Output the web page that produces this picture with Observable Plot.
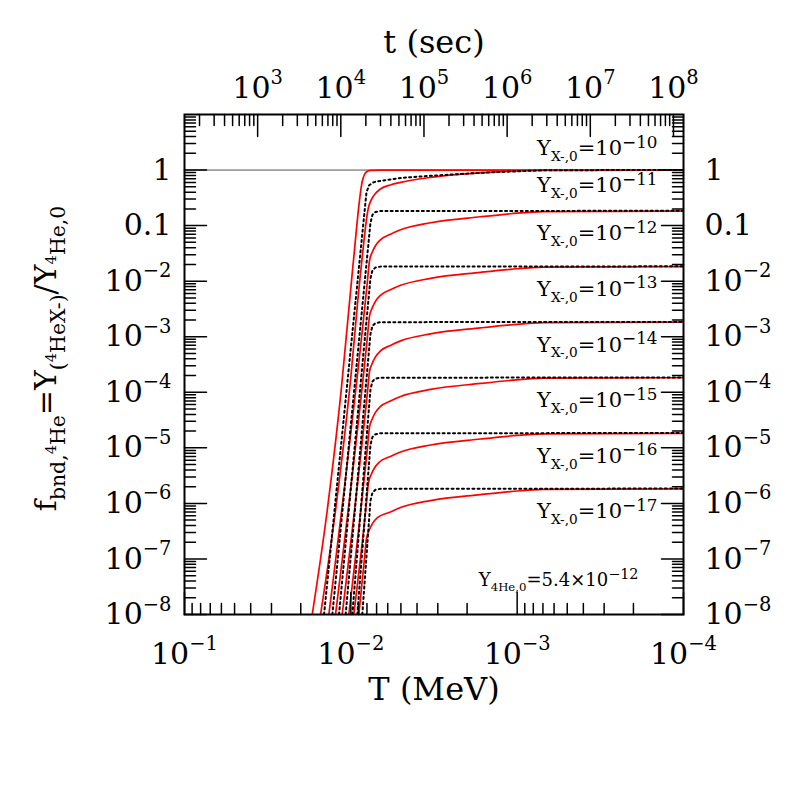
<!DOCTYPE html>
<html><head><meta charset="utf-8">
<script src="https://cdn.jsdelivr.net/npm/d3@7"></script>
<script src="https://cdn.jsdelivr.net/npm/@observablehq/plot@0.6"></script>
<style>html,body{margin:0;padding:0;background:#fff;}</style>
</head><body><div id="chart"></div>
<script>
// ---- data ----
// Y_{X-,0} = 10^-n for these n
const yxExponents = [10, 11, 12, 13, 14, 15, 16, 17];
// f value at the baseline of each label
const yxLabelF = [1.83, 0.40, 0.054, 5.4e-3, 5.4e-4, 5.4e-5, 5.4e-6, 5.4e-7];

// red solid curves: [log10 T(MeV), log10 f]
const red10 = [[-1.768,-8],[-1.858,-6.128],[-1.942,-3.967],[-2.010,-1.807],[-2.070,-0.187],[-2.082,-0.080],[-2.100,-0.020],[-2.118,-0.004],[-2.178,0],[-4,0]];
const red11 = [[-1.818,-8],[-1.908,-6.128],[-1.992,-3.967],[-2.060,-1.807],[-2.106,-0.673],[-2.124,-0.529],[-2.148,-0.421],[-2.178,-0.340],[-2.238,-0.268],[-2.299,-0.223],[-2.479,-0.133],[-2.780,-0.052],[-3.158,-0.004],[-4,0]];
const red12 = [[-1.868,-8],[-2.100,-1.993],[-2.112,-1.633],[-2.130,-1.471],[-2.148,-1.363],[-2.178,-1.255],[-2.238,-1.156],[-2.299,-1.075],[-2.479,-0.949],[-2.780,-0.841],[-2.960,-0.787],[-3.158,-0.747],[-4,-0.738]];
const red13 = [[-1.908,-8],[-2.100,-2.993],[-2.112,-2.633],[-2.130,-2.471],[-2.148,-2.363],[-2.178,-2.255],[-2.238,-2.156],[-2.299,-2.075],[-2.479,-1.949],[-2.780,-1.841],[-2.960,-1.787],[-3.158,-1.747],[-4,-1.738]];
const red14 = [[-1.948,-8],[-2.100,-3.993],[-2.112,-3.633],[-2.130,-3.471],[-2.148,-3.363],[-2.178,-3.255],[-2.238,-3.156],[-2.299,-3.075],[-2.479,-2.949],[-2.780,-2.841],[-2.960,-2.787],[-3.158,-2.747],[-4,-2.738]];
const red15 = [[-1.988,-8],[-2.100,-4.993],[-2.112,-4.633],[-2.130,-4.471],[-2.148,-4.363],[-2.178,-4.255],[-2.238,-4.156],[-2.299,-4.075],[-2.479,-3.949],[-2.780,-3.841],[-2.960,-3.787],[-3.158,-3.747],[-4,-3.738]];
const red16 = [[-2.018,-8],[-2.094,-5.993],[-2.106,-5.633],[-2.124,-5.471],[-2.142,-5.363],[-2.172,-5.255],[-2.238,-5.156],[-2.299,-5.075],[-2.479,-4.949],[-2.780,-4.841],[-2.960,-4.787],[-3.158,-4.747],[-4,-4.738]];
const red17 = [[-2.048,-8],[-2.082,-6.993],[-2.094,-6.633],[-2.112,-6.471],[-2.130,-6.363],[-2.160,-6.255],[-2.238,-6.156],[-2.299,-6.075],[-2.479,-5.949],[-2.780,-5.841],[-2.960,-5.787],[-3.158,-5.747],[-4,-5.738]];

// black dotted curves: [log10 T(MeV), log10 f]
const dot11 = [[-1.839,-8],[-2.094,-0.403],[-2.109,-0.277],[-2.130,-0.229],[-2.154,-0.205],[-2.299,-0.142],[-2.479,-0.103],[-2.780,-0.049],[-3.170,-0.002],[-4,0]];
const dot12 = [[-1.889,-8],[-2.118,-0.949],[-2.130,-0.805],[-2.148,-0.755],[-2.178,-0.738],[-4,-0.733]];
const dot13 = [[-1.929,-8],[-2.118,-1.949],[-2.130,-1.805],[-2.148,-1.755],[-2.178,-1.738],[-4,-1.733]];
const dot14 = [[-1.969,-8],[-2.118,-2.949],[-2.130,-2.805],[-2.148,-2.755],[-2.178,-2.738],[-4,-2.733]];
const dot15 = [[-2.009,-8],[-2.118,-3.949],[-2.130,-3.805],[-2.148,-3.755],[-2.178,-3.738],[-4,-3.733]];
const dot16 = [[-2.039,-8],[-2.118,-4.949],[-2.130,-4.805],[-2.148,-4.755],[-2.178,-4.738],[-4,-4.733]];
const dot17 = [[-2.069,-8],[-2.118,-5.949],[-2.130,-5.805],[-2.148,-5.755],[-2.178,-5.738],[-4,-5.733]];

// tick values and labels
const TMajor = [0.1, 0.01, 0.001, 0.0001];
const TLabels = ["10^{−1}", "10^{−2}", "10^{−3}", "10^{−4}"];
const fMajor = [1, 0.1, 1e-2, 1e-3, 1e-4, 1e-5, 1e-6, 1e-7, 1e-8];
const fLabels = ["1", "0.1", "10^{−2}", "10^{−3}", "10^{−4}", "10^{−5}", "10^{−6}", "10^{−7}", "10^{−8}"];
const tMajor = [1e3, 1e4, 1e5, 1e6, 1e7, 1e8];
const tLabels = ["10^{3}", "10^{4}", "10^{5}", "10^{6}", "10^{7}", "10^{8}"];
const tConst = 1.32; // t(sec) = tConst / T(MeV)^2

// ---- build tables ----
const redCurves = [red10, red11, red12, red13, red14, red15, red16, red17];
const dotCurves = [dot11, dot12, dot13, dot14, dot15, dot16, dot17];
const redTable = redCurves.flatMap((c, k) => c.map(([lt, lf]) => ({T: 10 ** lt, f: 10 ** lf, s: "r" + k})));
const dotTable = dotCurves.flatMap((c, k) => c.map(([lt, lf]) => ({T: 10 ** lt, f: 10 ** lf, s: "d" + k})));

const minors = (lo, hi) => { const o = []; for (let e = lo; e < hi; e++) for (let k = 2; k <= 9; k++) o.push(k * 10 ** e); return o; };
const TMinor = minors(-4, -1);
const fMinor = minors(-8, 1);
const tToT = t => Math.sqrt(tConst / t);
const tMinor = minors(2, 8).map(tToT).filter(T => T <= 0.1 && T >= 1e-4);
const tMajorT = tMajor.map(tToT);

const MAJ = 22, MIN = 11;
const tickOpts = {stroke: "black", strokeWidth: 1.5, r: 0, anchor: "start"};
const vx = (data, side, len) => Plot.vector(data, {...tickOpts, x: d => d, frameAnchor: side, length: len, rotate: side === "bottom" ? 0 : 180});
const vy = (data, side, len) => Plot.vector(data, {...tickOpts, y: d => d, frameAnchor: side, length: len, rotate: side === "left" ? 90 : -90});

const FONT = "DejaVu Serif";
const chart = Plot.plot({
  width: 797, height: 797,
  marginLeft: 184, marginRight: 114, marginTop: 114, marginBottom: 183,
  style: {fontFamily: FONT, background: "white", color: "black"},
  x: {type: "log", domain: [1e-4, 0.1], reverse: true, axis: null},
  y: {type: "log", domain: [1e-8, 10], axis: null},
  marks: [
    Plot.ruleY([1], {stroke: "#555", strokeWidth: 1}),
    Plot.line(redTable, {x: "T", y: "f", z: "s", stroke: "#ff0000", strokeWidth: 1.7, curve: "monotone-x", clip: true}),
    Plot.line(dotTable, {x: "T", y: "f", z: "s", stroke: "black", strokeWidth: 2, strokeDasharray: "2,3.2", clip: true}),
    Plot.frame({stroke: "black", strokeWidth: 2}),
    vx(TMajor, "bottom", MAJ), vx(TMinor, "bottom", MIN),
    vx(tMajorT, "top", MAJ), vx(tMinor, "top", MIN),
    vy(fMajor, "left", MAJ), vy(fMinor, "left", MIN),
    vy(fMajor, "right", MAJ), vy(fMinor, "right", MIN),
    Plot.text(TMajor, {x: d => d, text: (d, i) => TLabels[i], frameAnchor: "bottom", dy: 49, lineAnchor: "bottom", fontSize: 30}),
    Plot.text(tMajorT, {x: d => d, text: (d, i) => tLabels[i], frameAnchor: "top", dy: -17, lineAnchor: "bottom", fontSize: 30}),
    Plot.text(fMajor, {y: d => d, text: (d, i) => fLabels[i], frameAnchor: "left", dx: -13, textAnchor: "end", lineAnchor: "middle", fontSize: 30}),
    Plot.text(fMajor, {y: d => d, text: (d, i) => fLabels[i], frameAnchor: "right", dx: 21, textAnchor: "start", lineAnchor: "middle", fontSize: 30}),
    Plot.text(yxExponents, {y: (d, i) => yxLabelF[i], text: d => `Y_{X-,0}=10^{−${d}}`, frameAnchor: "right", dx: -26, textAnchor: "end", lineAnchor: "bottom", fontSize: 21}),
    Plot.text(["Y_{4He,0}=5.4×10^{−12}"], {frameAnchor: "bottom-right", dx: -45, dy: -29, textAnchor: "end", lineAnchor: "bottom", fontSize: 18}),
    Plot.text(["T (MeV)"], {frameAnchor: "bottom", dy: 85, lineAnchor: "bottom", fontSize: 32}),
    Plot.text(["t (sec)"], {frameAnchor: "top", dy: -62, lineAnchor: "bottom", fontSize: 32}),
    Plot.text(["f_{bnd,^{4}He}=Y_{(^{4}HeX-)}/Y_{^{4}He,0}"], {frameAnchor: "left", dx: -129, dy: -6, rotate: -90, textAnchor: "middle", lineAnchor: "bottom", fontSize: 30})
  ]
});
document.getElementById("chart").appendChild(chart);

// ---- rich text: _{sub} and ^{sup} into tspans ----
const STYLES = {
  tick: {sub: [0.65, 0.3], sup: [0.65, 0.45]},
  yx: {sub: [0.65, 0.28], sup: [0.8, 0.36]},
  ylab: {sub: [0.68, 0.3], sup: [0.72, 0.42]}
};
function parseRich(str, st) {
  const segs = []; let i = 0;
  (function walk(scale, off) {
    let buf = "";
    const flush = () => { if (buf) { segs.push({text: buf, scale, off}); buf = ""; } };
    while (i < str.length) {
      const c = str[i];
      if ((c === "_" || c === "^") && str[i + 1] === "{") {
        flush(); i += 2;
        const [s, sh] = c === "_" ? st.sub : st.sup;
        walk(scale * s, off + (c === "_" ? sh : -sh) * scale);
      } else if (c === "}") { flush(); i++; return; }
      else { buf += c; i++; }
    }
    flush();
  })(1, 0);
  return segs;
}
function richify(el) {
  const str = el.textContent;
  if (!/[_^]\{/.test(str)) return;
  const st = str.startsWith("f_{") ? STYLES.ylab : str.startsWith("Y_{") ? STYLES.yx : STYLES.tick;
  const base = parseFloat(getComputedStyle(el).fontSize) || 20;
  const segs = parseRich(str, st);
  while (el.firstChild) el.removeChild(el.firstChild);
  let cur = 0;
  for (const s of segs) {
    const t = document.createElementNS("http://www.w3.org/2000/svg", "tspan");
    t.setAttribute("font-size", (base * s.scale).toFixed(2));
    const d = (s.off - cur) * base;
    if (Math.abs(d) > 1e-6) t.setAttribute("dy", d.toFixed(2));
    cur = s.off;
    t.textContent = s.text;
    el.appendChild(t);
  }
}
chart.querySelectorAll("text").forEach(richify);
</script></body></html>
